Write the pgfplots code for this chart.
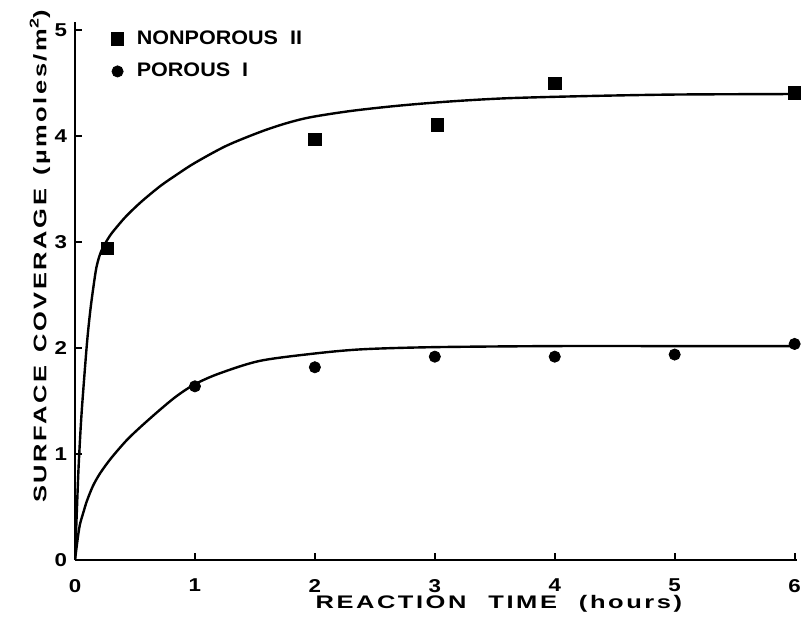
\documentclass[border=0pt]{standalone}
\usepackage{fontspec}
\setmainfont{Liberation Sans}
\newfontfamily\labelfont[FakeStretch=1.4,LetterSpace=14]{Liberation Sans}
\newfontfamily\legfont[FakeStretch=1.1]{Liberation Sans}
\newfontfamily\tickfont[FakeStretch=1.2]{Liberation Sans}
\usepackage{pgfplots}
\pgfplotsset{compat=1.18}

\begin{document}
\begin{tikzpicture}
\path[use as bounding box] (-37.5pt,-28.5pt) rectangle (366pt,280pt);
\begin{axis}[
    scale only axis,
    width=361pt, height=269pt,
    xmin=0, xmax=6.02, ymin=0, ymax=5.08,
    axis lines*=left,
    axis line style={line width=1.3pt},
    xtick={0,1,2,3,4,5,6}, ytick={0,1,2,3,4,5},
    tick align=inside,
    major tick length=3.5pt,
    tick style={line width=1pt, black},
    /pgf/number format/assume math mode=true,
    ticklabel style={font=\tickfont\fontsize{9.3}{11}\selectfont\bfseries},
    xticklabel style={yshift=-6pt},
    yticklabel style={xshift=-0.5pt},
    xlabel={REACTION\hspace{11pt}TIME\hspace{11pt}(hours)},
    ylabel={SURFACE\hspace{6.5pt}COVERAGE\hspace{6.5pt}(µmoles/m\textsuperscript{2})},
    label style={font=\labelfont\fontsize{9.1}{11}\selectfont\bfseries},
    xlabel style={at={(axis description cs:0.587,0)}, anchor=center, yshift=-22pt},
    ylabel style={at={(axis description cs:-0.0485,0.565)}, anchor=center},
    legend style={draw=none, fill=none, at={(0.0415,1.0)}, anchor=north west,
        row sep=4pt, font=\legfont\fontsize{9.8}{11.5}\selectfont\bfseries},
    legend cell align=left,
]
% fitted curves
\addplot[black, line width=1.2pt, smooth, forget plot] coordinates {
    (0,0)(0.015,0.45)(0.03,0.88)(0.05,1.3)(0.07,1.62)(0.1,2.05)(0.125,2.33)
    (0.15,2.55)(0.18,2.77)(0.22,2.92)(0.29,3.06)(0.36,3.16)(0.43,3.25)
    (0.55,3.38)(0.71,3.53)(0.85,3.64)(1.0,3.75)(1.26,3.91)(1.54,4.04)
    (1.75,4.12)(1.96,4.18)(2.3,4.24)(2.7,4.29)(3.13,4.33)(3.6,4.36)
    (4.24,4.38)(5,4.395)(6,4.40)
};
\addplot[black, line width=1.2pt, smooth, forget plot] coordinates {
    (0,0)(0.02,0.18)(0.04,0.33)(0.07,0.45)(0.1,0.56)(0.15,0.7)(0.21,0.82)
    (0.3,0.96)(0.43,1.13)(0.55,1.26)(0.71,1.42)(0.85,1.55)(1.0,1.66)
    (1.2,1.76)(1.54,1.88)(2.0,1.95)(2.4,1.99)(3,2.01)(4,2.02)(5,2.02)(6,2.02)
};
% measured points
\addplot[only marks, mark=square*, mark size=3.1pt, black] coordinates {
    (0.27,2.94)(2,3.97)(3.02,4.11)(4,4.50)(6,4.41)
};
\addlegendentry{\hspace{4.5pt}NONPOROUS\hspace{6pt}II}
\addplot[only marks, mark=*, mark size=2.8pt, black] coordinates {
    (1,1.64)(2,1.82)(3,1.92)(4,1.92)(5,1.94)(6,2.04)
};
\addlegendentry{\hspace{4.5pt}POROUS\hspace{6pt}I}
\end{axis}
\end{tikzpicture}
\end{document}
